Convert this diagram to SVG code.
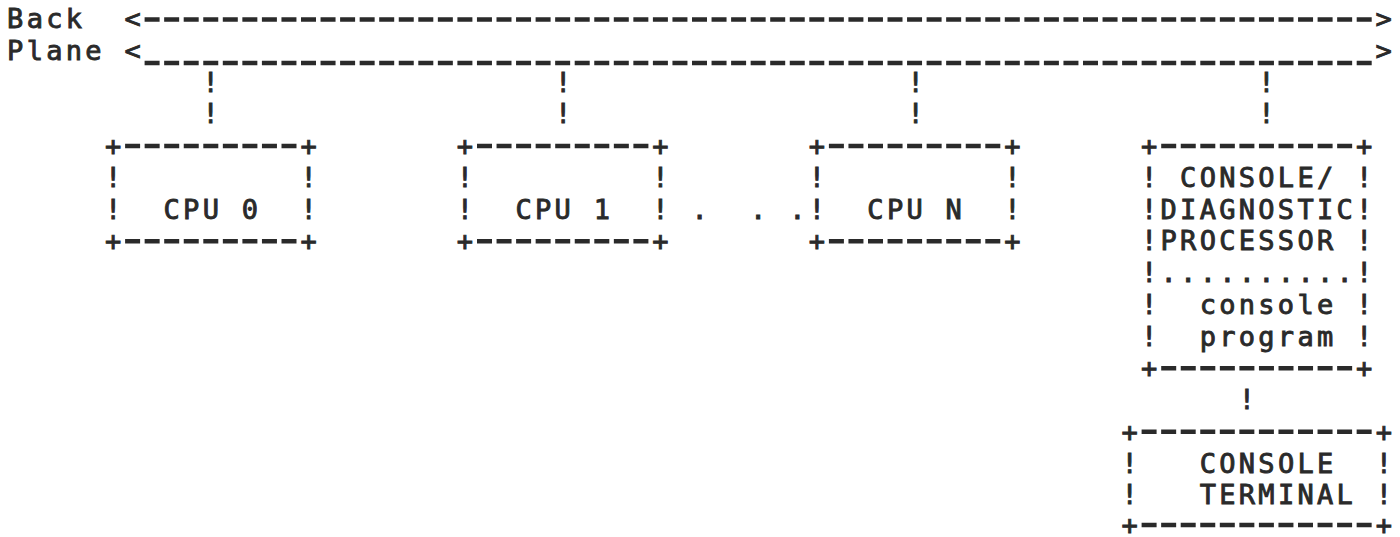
<svg xmlns="http://www.w3.org/2000/svg" width="1400" height="537" viewBox="0 0 1400 537">
  <style>
    text { font-family: "DejaVu Sans Mono", "Liberation Mono", monospace; font-size: 27px; fill: #2a2a2a; stroke: #2a2a2a; stroke-width: 0.9px; letter-spacing: 3.294px; white-space: pre; }
    .rule { stroke: #2a2a2a; stroke-width: 4.5; stroke-dasharray: 15 4.55; fill: none; }
  </style>
  <rect width="1400" height="537" fill="#ffffff"/>

  <!-- character grid: column c starts at x = 7.12 + 19.55c, row r is centred on y = 18 + 31.75r -->

  <!-- backplane bus -->
  <g id="backplane">
    <text x="7.12" y="28">Back  &lt;</text>
    <text x="1375.6" y="28">&gt;</text>
    <line class="rule" x1="144.6" y1="19.5" x2="1371.7" y2="19.5"/>
    <text x="7.12" y="59.75">Plane &lt;</text>
    <text x="1375.6" y="59.75">&gt;</text>
    <line class="rule" x1="144.6" y1="63" x2="1371.7" y2="63"/>
  </g>

  <!-- bus taps and console link -->
  <g id="connectors">
    <text x="202.6" y="91.5">!</text>
    <text x="202.6" y="123.25">!</text>
    <text x="555" y="91.5">!</text>
    <text x="555" y="123.25">!</text>
    <text x="907.4" y="91.5">!</text>
    <text x="907.4" y="123.25">!</text>
    <text x="1258.3" y="91.5">!</text>
    <text x="1258.3" y="123.25">!</text>
    <text x="1238.8" y="409">!</text>
  </g>

  <g id="cpu0">
    <text x="104.9" y="155">+         +</text>
    <line class="rule" x1="125.1" y1="146" x2="298.7" y2="146"/>
    <text x="104.9" y="186.75">!         !</text>
    <text x="104.9" y="218.5">!  CPU 0  !</text>
    <text x="104.9" y="250.25">+         +</text>
    <line class="rule" x1="125.1" y1="241.25" x2="298.7" y2="241.25"/>
  </g>

  <g id="cpu1">
    <text x="456.8" y="155">+         +</text>
    <line class="rule" x1="477" y1="146" x2="650.6" y2="146"/>
    <text x="456.8" y="186.75">!         !</text>
    <text x="456.8" y="218.5">!  CPU 1  !</text>
    <text x="456.8" y="250.25">+         +</text>
    <line class="rule" x1="477" y1="241.25" x2="650.6" y2="241.25"/>
  </g>

  <g id="ellipsis">
    <text x="691.4" y="218.5">.  . .</text>
  </g>

  <g id="cpuN">
    <text x="808.7" y="155">+         +</text>
    <line class="rule" x1="828.9" y1="146" x2="1002.5" y2="146"/>
    <text x="808.7" y="186.75">!         !</text>
    <text x="808.7" y="218.5">!  CPU N  !</text>
    <text x="808.7" y="250.25">+         +</text>
    <line class="rule" x1="828.9" y1="241.25" x2="1002.5" y2="241.25"/>
  </g>

  <g id="console-processor">
    <text x="1141" y="155">+          +</text>
    <line class="rule" x1="1161.2" y1="146" x2="1354.3" y2="146"/>
    <text x="1141" y="186.75">! CONSOLE/ !</text>
    <text x="1141" y="218.5">!DIAGNOSTIC!</text>
    <text x="1141" y="250.25">!PROCESSOR !</text>
    <text x="1141" y="282">!..........!</text>
    <text x="1141" y="313.75">!  console !</text>
    <text x="1141" y="345.5">!  program !</text>
    <text x="1141" y="377.25">+          +</text>
    <line class="rule" x1="1161.2" y1="368.25" x2="1354.3" y2="368.25"/>
  </g>

  <g id="console-terminal">
    <text x="1121.5" y="440.75">+            +</text>
    <line class="rule" x1="1141.6" y1="431.75" x2="1373.8" y2="431.75"/>
    <text x="1121.5" y="472.5">!   CONSOLE  !</text>
    <text x="1121.5" y="504.25">!   TERMINAL !</text>
    <text x="1121.5" y="534">+            +</text>
    <line class="rule" x1="1141.6" y1="525" x2="1373.8" y2="525"/>
  </g>
</svg>
